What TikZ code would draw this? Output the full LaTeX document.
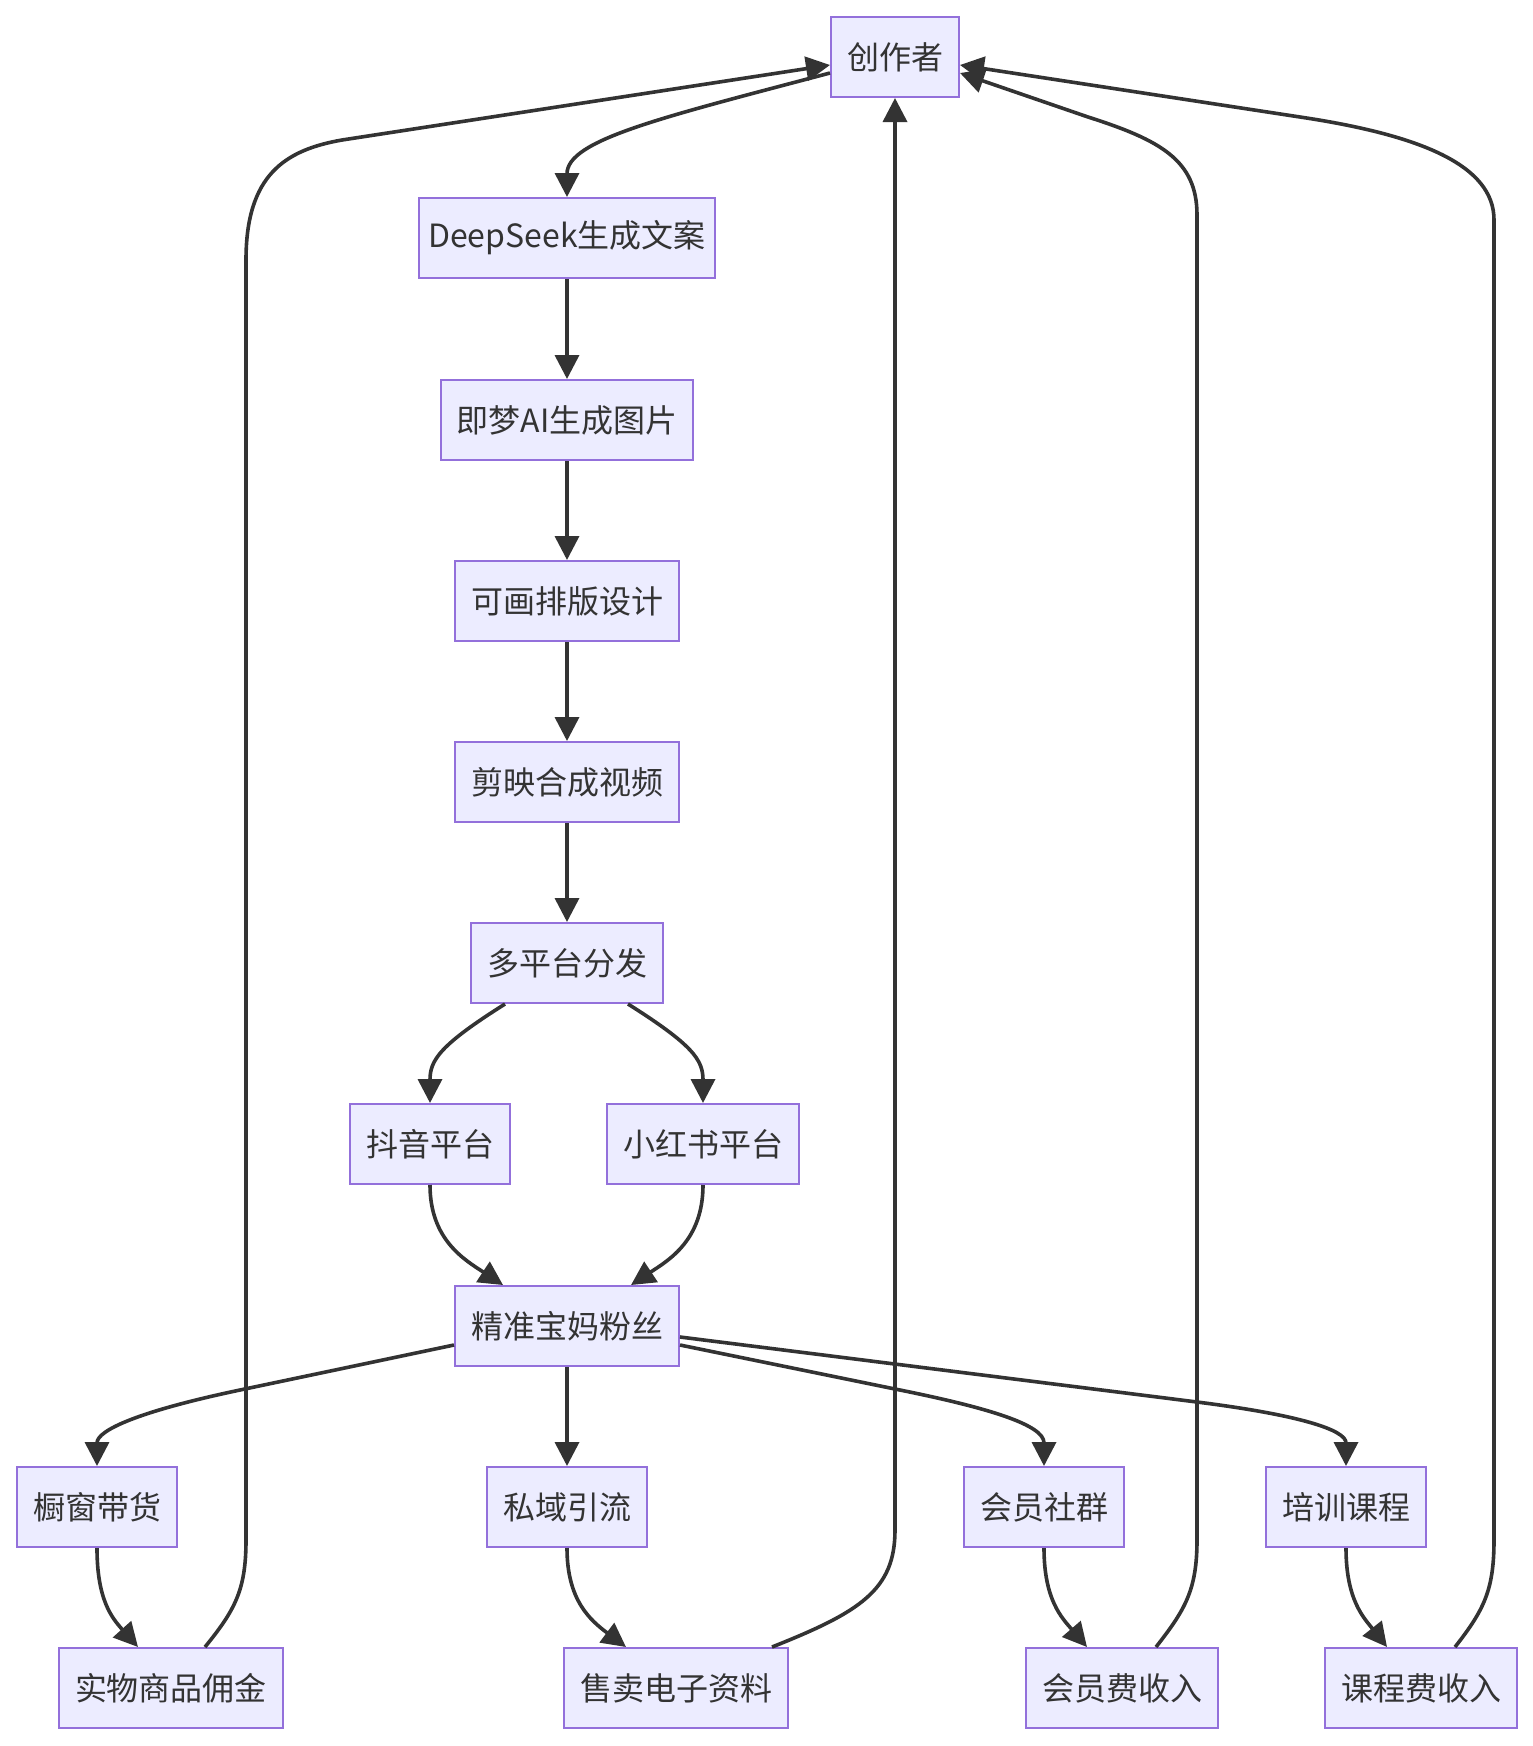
\documentclass[tikz,border=0pt]{standalone}
\usepackage{fontspec}
\setmainfont{Noto Sans CJK SC}
\usepackage{tikz}
\usetikzlibrary{arrows.meta}
\definecolor{boxfill}{HTML}{ECECFF}
\definecolor{boxline}{HTML}{9370DB}
\definecolor{flowc}{HTML}{333333}

\begin{document}
\begin{tikzpicture}[x=0.5pt, y=-0.5pt,
  box/.style={draw=boxline, fill=boxfill, line width=1pt, minimum height=40pt,
    inner xsep=8pt, text=flowc, font=\fontsize{16pt}{19pt}\selectfont},
  flow/.style={draw=flowc, line width=1.8pt, -{Triangle[length=12pt,width=12pt]}}]
  \fill[white] (0,0) rectangle (1532,1746);
  \useasboundingbox (0,0) rectangle (1532,1746);
  \node[box] (c) at (895,57) {创作者};
  \node[box, inner xsep=4.8pt] (ds) at (567,238) {DeepSeek生成文案};
  \node[box] (jm) at (567,420) {即梦AI生成图片};
  \node[box] (kh) at (567,601) {可画排版设计};
  \node[box] (jy) at (567,782) {剪映合成视频};
  \node[box] (dp) at (567,963) {多平台分发};
  \node[box] (dy) at (430,1144) {抖音平台};
  \node[box] (xhs) at (703,1144) {小红书平台};
  \node[box] (fs) at (567,1326) {精准宝妈粉丝};
  \node[box] (cc) at (97,1507) {橱窗带货};
  \node[box] (sy) at (567,1507) {私域引流};
  \node[box] (hy) at (1044,1507) {会员社群};
  \node[box] (px) at (1346,1507) {培训课程};
  \node[box] (sw) at (171,1688) {实物商品佣金};
  \node[box] (dz) at (676,1688) {售卖电子资料};
  \node[box] (hf) at (1122,1688) {会员费收入};
  \node[box] (kf) at (1421,1688) {课程费收入};
  \draw[flow] ([yshift=-8pt]c.west) .. controls (660,118) and (567,140) .. (ds.north);
  \draw[flow] (ds) -- (jm);
  \draw[flow] (jm) -- (kh);
  \draw[flow] (kh) -- (jy);
  \draw[flow] (jy) -- (dp);
  \draw[flow] ([xshift=-31pt]dp.south) .. controls (440,1045) and (430,1060) .. (dy.north);
  \draw[flow] ([xshift=30.5pt]dp.south) .. controls (693,1045) and (703,1060) .. (xhs.north);
  \draw[flow] (dy.south) .. controls (430,1240) and (465,1260) .. ([xshift=-32pt]fs.north);
  \draw[flow] (xhs.south) .. controls (703,1240) and (669,1260) .. ([xshift=32pt]fs.north);
  \draw[flow] ([yshift=-9.5pt]fs.west) -- (240,1390) .. controls (140,1411) and (97,1430) .. (cc.north);
  \draw[flow] (fs) -- (sy);
  \draw[flow] ([yshift=-9.5pt]fs.east) -- (895,1389) .. controls (990,1408) and (1044,1425) .. (hy.north);
  \draw[flow] ([yshift=-5.5pt]fs.east) -- (1197,1402) .. controls (1300,1415) and (1346,1430) .. (px.north);
  \draw[flow] (cc.south) .. controls (97,1600) and (112,1618) .. ([xshift=-16.5pt]sw.north);
  \draw[flow] (sy.south) .. controls (567,1600) and (590,1620) .. ([xshift=-25pt]dz.north);
  \draw[flow] (hy.south) .. controls (1044,1600) and (1062,1618) .. ([xshift=-17.5pt]hf.north);
  \draw[flow] (px.south) .. controls (1346,1600) and (1364,1618) .. ([xshift=-17pt]kf.north);
  \draw[flow] ([xshift=17pt]sw.north) .. controls (235,1610) and (246,1590) .. (246,1540)
    -- (246,260) .. controls (246,175) and (285,150) .. (342,140) -- ([yshift=-4pt]c.west);
  \draw[flow] ([xshift=48pt]dz.north) .. controls (860,1612) and (895,1590) .. (895,1530) -- (c.south);
  \draw[flow] ([xshift=17pt]hf.north) .. controls (1185,1610) and (1197,1590) .. (1197,1540)
    -- (1197,215) .. controls (1197,160) and (1160,140) .. (1088,117) -- ([yshift=-8pt]c.east);
  \draw[flow] ([xshift=17pt]kf.north) .. controls (1484,1610) and (1494,1590) .. (1494,1540)
    -- (1494,220) .. controls (1494,165) and (1420,135) .. (1300,117) -- ([yshift=-4pt]c.east);
\end{tikzpicture}
\end{document}
